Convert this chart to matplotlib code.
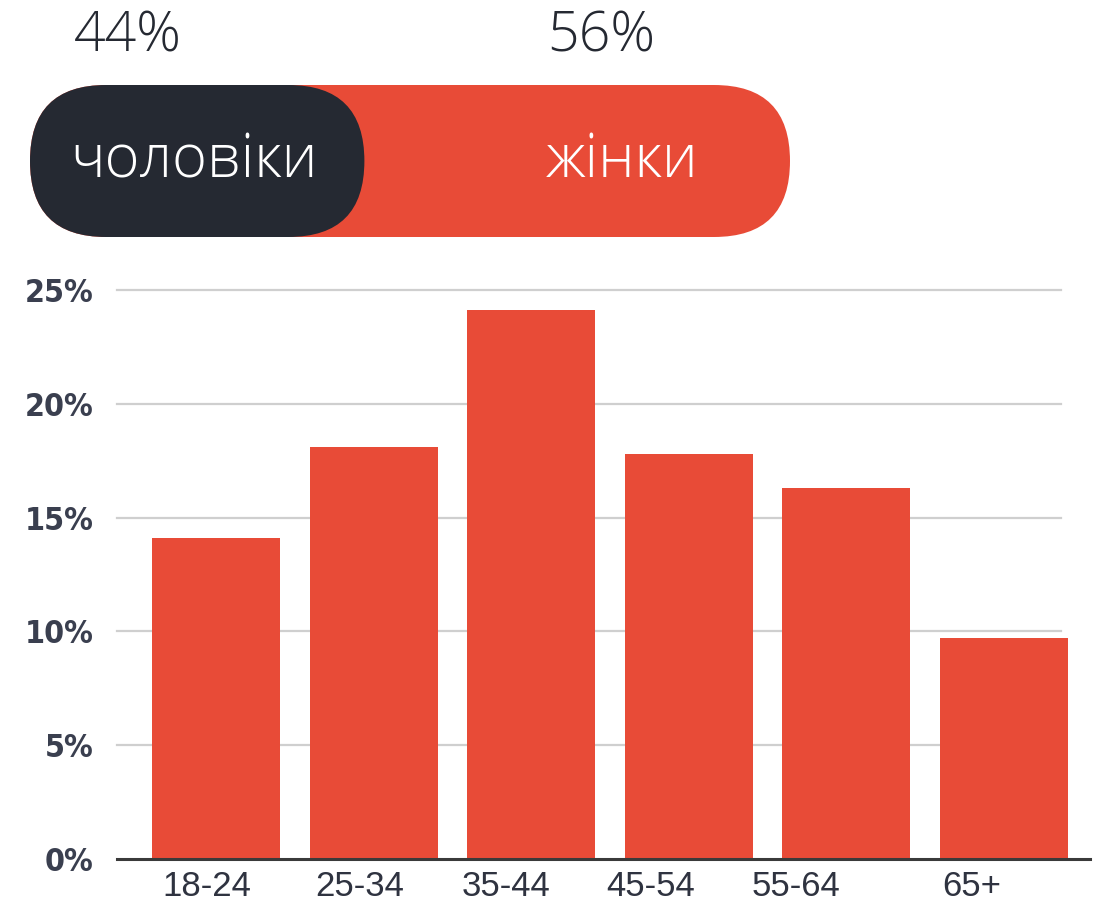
import matplotlib
matplotlib.use("Agg")
import matplotlib.pyplot as plt
from matplotlib.patches import FancyBboxPatch
import numpy as np

# data
age_groups = ["18-24", "25-34", "35-44", "45-54", "55-64", "65+"]
age_share = [14.1, 18.1, 24.1, 17.8, 16.3, 9.7]
gender_labels = ["чоловіки", "жінки"]
gender_share = [44, 56]
y_ticks = [0, 5, 10, 15, 20, 25]

RED = "#e84b37"
DARK = "#252932"
W, H = 1104, 908

fig = plt.figure(figsize=(W / 100, H / 100), dpi=100)

# ---- top: gender split pill (drawn in pixel coordinates) ----
top = fig.add_axes([0, 0, 1, 1])
top.set_xlim(0, W)
top.set_ylim(H, 0)
top.axis("off")

pill_x, pill_y, pill_w, pill_h = 30, 85, 760, 152
r = pill_h / 2
dark_w = pill_w * gender_share[0] / 100
top.add_patch(FancyBboxPatch((pill_x, pill_y), pill_w, pill_h,
                             boxstyle=f"round,pad=0,rounding_size={r}",
                             fc=RED, ec="none"))
top.add_patch(FancyBboxPatch((pill_x, pill_y), dark_w, pill_h,
                             boxstyle=f"round,pad=0,rounding_size={r}",
                             fc=DARK, ec="none"))

big = dict(family=["Open Sans", "Lato", "DejaVu Sans"], fontweight="light")
top.text(74, 52, f"{gender_share[0]}%", fontsize=40, color=DARK, ha="left", va="baseline", **big)
top.text(547, 52, f"{gender_share[1]}%", fontsize=40, color=DARK, ha="left", va="baseline", **big)
top.text(70, 177, gender_labels[0], fontsize=43, color="white", ha="left", va="baseline", **big)
top.text(546, 177, gender_labels[1], fontsize=43, color="white", ha="left", va="baseline", **big)

# ---- bottom: age distribution bars ----
ax = fig.add_axes([117 / W, 1 - 859 / H, 973 / W, (859 - 290) / H])
x = np.arange(len(age_groups))
ax.bar(x, age_share, width=0.813, color=RED, zorder=2)
ax.set_xlim(-0.629, 5.549)
ax.set_ylim(0, 25)

for t in y_ticks[1:]:
    ax.axhline(t, xmin=0, xmax=0.970, color="#cfcfcf", lw=1.6, zorder=1, clip_on=False)
ax.axhline(0, color="#3a3a3a", lw=2.2, zorder=3, clip_on=False)

for s in ax.spines.values():
    s.set_visible(False)

ax.set_yticks(y_ticks)
ax.set_yticklabels([f"{t}%" for t in y_ticks], family="DejaVu Sans",
                   fontstretch="condensed", fontweight="bold",
                   fontsize=23, color="#3a3f4f")
ax.tick_params(axis="y", length=0, pad=17)

label_pos = [-0.06, 0.91, 1.84, 2.76, 3.68, 4.80]
ax.set_xticks(label_pos)
ax.set_xticklabels(age_groups, family=["Liberation Sans", "DejaVu Sans"],
                   fontsize=25, color="#2f3340")
ax.tick_params(axis="x", length=0, pad=8)

fig.savefig("out.png", dpi=100)
